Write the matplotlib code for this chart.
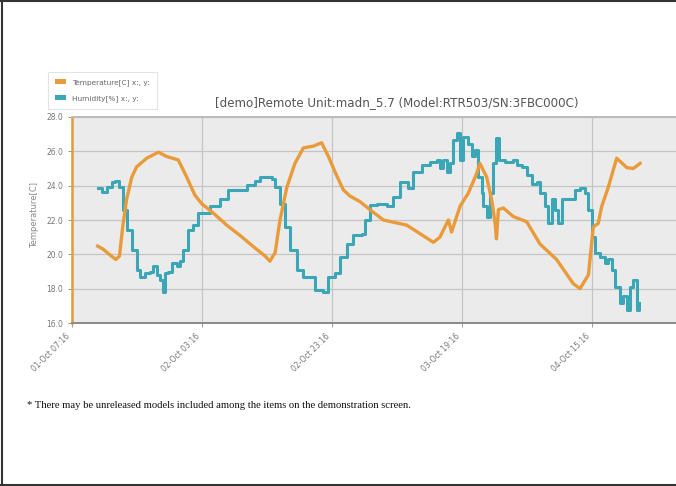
import matplotlib
matplotlib.use('Agg')
import matplotlib.pyplot as plt
import matplotlib.dates as mdates
from matplotlib.patches import Patch
import numpy as np
from datetime import datetime, timedelta

# Readings (hours after 01-Oct 07:16)
start_time = datetime(2013, 10, 1, 7, 16)

temp_hours = [3.95, 4.8, 5.85, 6.75, 7.3, 7.8, 8.4, 9.2, 9.95, 11.5, 13.3, 14.55,
              16.35, 17.65, 18.9, 19.95, 21.75, 23.8, 25.85, 27.9, 29.7, 30.45,
              31.25, 32.0, 33.05, 34.3, 35.6, 37.1, 38.4, 39.45, 40.7, 41.75,
              42.75, 44.3, 45.85, 47.9, 51.5, 55.6, 56.6, 57.9, 58.4, 59.7,
              60.95, 62.25, 62.75, 63.8, 64.55, 65.1, 65.3, 65.6, 66.35, 67.9,
              69.95, 72.0, 74.55, 77.1, 78.15, 79.45, 80.2, 80.95, 81.5, 82.5,
              83.8, 85.35, 86.35, 87.4]
temp_values = [20.48, 20.3, 19.96, 19.7, 19.9, 21.6, 23.2, 24.5, 25.1, 25.6, 25.95, 25.7,
               25.5, 24.5, 23.45, 22.95, 22.4, 21.7, 21.1, 20.45, 19.9, 19.6,
               20.1, 22.0, 23.9, 25.3, 26.2, 26.3, 26.5, 25.7, 24.6, 23.75,
               23.4, 23.07, 22.6, 22.0, 21.7, 20.7, 21.0, 22.0, 21.3, 22.8,
               23.55, 24.7, 25.3, 24.5, 23.2, 21.8, 20.9, 22.6, 22.7, 22.2,
               21.9, 20.6, 19.7, 18.3, 18.0, 18.8, 21.6, 21.8, 22.8, 23.9,
               25.6, 25.05, 25.0, 25.3]

hum_hours = [3.95, 4.55, 5.35, 6.1, 6.6, 7.3, 7.8, 8.4, 9.2, 9.95, 10.45, 11.25,
             12.0, 12.5, 13.05, 13.55, 13.95, 14.3, 14.8, 15.35, 16.1, 16.6,
             17.1, 17.9, 18.65, 19.45, 20.2, 21.25, 22.75, 24.05, 25.35, 26.9,
             28.15, 28.9, 30.7, 31.25, 32.0, 32.75, 33.55, 34.55, 35.6, 36.6,
             37.4, 38.65, 39.45, 40.45, 41.25, 42.25, 43.3, 44.55, 45.1, 45.85,
             46.9, 48.4, 49.45, 50.45, 51.75, 52.5, 53.8, 55.1, 56.1, 56.6,
             57.1, 57.65, 58.15, 58.65, 59.2, 59.7, 60.2, 60.95, 61.5, 62.0,
             62.5, 63.0, 63.25, 63.8, 64.3, 64.7, 65.25, 65.75, 66.6, 67.9,
             68.4, 69.2, 69.95, 70.75, 71.5, 72.0, 72.75, 73.3, 73.8, 74.3,
             74.8, 75.35, 76.35, 77.4, 78.15, 78.9, 79.45, 79.95, 80.45, 81.25,
             82.0, 82.5, 83.05, 83.55, 84.3, 84.8, 85.35, 85.85, 86.35, 86.85, 87.3]
hum_values = [23.85, 23.65, 23.95, 24.2, 24.3, 23.95, 22.6, 21.4, 20.25, 19.1, 18.7, 18.9,
              19.0, 19.3, 18.8, 18.5, 17.8, 18.9, 19.0, 19.5, 19.3, 19.6,
              20.25, 21.4, 21.7, 22.4, 22.4, 22.8, 23.2, 23.75, 23.75, 24.05,
              24.3, 24.5, 24.4, 23.95, 22.95, 21.6, 20.25, 19.1, 18.7, 18.7,
              17.9, 17.8, 18.7, 18.9, 19.85, 20.6, 21.1, 21.2, 22.0, 22.9,
              22.95, 22.8, 23.35, 24.2, 23.85, 24.8, 25.2, 25.4, 25.5, 25.0,
              25.5, 24.8, 25.3, 26.65, 27.05, 25.5, 26.85, 26.45, 25.7, 26.1,
              24.5, 23.55, 22.8, 22.2, 23.55, 25.3, 26.75, 25.5, 25.4, 25.5,
              25.2, 25.1, 24.6, 24.1, 24.2, 23.55, 22.8, 21.8, 23.2, 22.6,
              21.8, 23.25, 23.2, 23.75, 23.85, 23.55, 22.6, 21.0, 20.1, 19.85,
              19.5, 19.7, 19.1, 18.1, 17.15, 17.6, 16.75, 18.1, 18.5, 16.75, 17.15]

tick_step_hours = 20
y_ticks = [16.0, 18.0, 20.0, 22.0, 24.0, 26.0, 28.0]

title = "[demo]Remote Unit:madn_5.7 (Model:RTR503/SN:3FBC000C)"
footnote = "* There may be unreleased models included among the items on the demonstration screen."

temp_color = '#E99B3A'
hum_color = '#3AA6B6'

temp_t = [start_time + timedelta(hours=h) for h in temp_hours]
hum_t = [start_time + timedelta(hours=h) for h in hum_hours]

W, H = 676, 486
fig = plt.figure(figsize=(W / 100, H / 100), dpi=100)
fig.patch.set_facecolor('white')

# plot area in pixels -> figure fraction; it runs off the right edge
left_px, right_px, top_px, bot_px = 72, 740, 117, 323
ax = fig.add_axes([left_px / W, 1 - bot_px / H, (right_px - left_px) / W, (bot_px - top_px) / H])
ax.set_facecolor('#EBEBEB')

ax.plot(hum_t, hum_values, color=hum_color, lw=2.2, drawstyle='steps-post', zorder=3)
ax.plot(temp_t, temp_values, color=temp_color, lw=2.4, zorder=4)

ax.set_ylim(16, 28)
ax.set_xlim(start_time, start_time + timedelta(hours=(right_px - left_px) / 6.5))
ax.set_yticks(y_ticks)
ax.set_yticklabels([f"{v:.1f}" for v in y_ticks])
xt = [start_time + timedelta(hours=tick_step_hours * k) for k in range(5)]
ax.set_xticks(xt)
ax.xaxis.set_major_formatter(mdates.DateFormatter('%d-%b %H:%M'))

ax.grid(True, color='#C4C4C4', lw=0.9)
ax.set_axisbelow(True)
ax.tick_params(axis='both', labelsize=5.5, colors='#888888', length=3, width=0.6)
for lab in ax.get_xticklabels():
    lab.set_rotation(45)
    lab.set_ha('right')
    lab.set_va('top')
    lab.set_color('#777777')
for lab in ax.get_yticklabels():
    lab.set_color('#777777')

ax.spines['left'].set_color(temp_color)
ax.spines['left'].set_linewidth(1.8)
ax.spines['bottom'].set_color('#8A8A8A')
ax.spines['bottom'].set_linewidth(1.4)
ax.spines['top'].set_color('#BBBBBB')
ax.spines['top'].set_linewidth(1.4)
ax.spines['right'].set_visible(False)

fig.text(35 / W, 1 - 215 / H, 'Temperature[C]', rotation=90, fontsize=6,
         color='#888888', ha='center', va='center')
fig.text(397 / W, 1 - 103 / H, title, fontsize=8.6, color='#555555',
         ha='center', va='center')

handles = [Patch(facecolor=temp_color, edgecolor='none', label='Temperature[C] x:, y:'),
           Patch(facecolor=hum_color, edgecolor='none', label='Humidity[%] x:, y:')]
leg = fig.legend(handles=handles, loc='upper left', bbox_to_anchor=(48 / W, 1 - 72 / H),
                 fontsize=5.3, frameon=True, fancybox=False, handlelength=1.6,
                 handleheight=0.7, labelspacing=1.3, borderpad=0.9, borderaxespad=0)
leg.get_frame().set_edgecolor('#DDDDDD')
leg.get_frame().set_linewidth(0.8)
for t in leg.get_texts():
    t.set_color('#666666')

fig.text(27 / W, 1 - 405 / H, footnote, fontsize=7.7, family='Liberation Serif',
         color='#111111', ha='left', va='center')

# frame around the screenshot
for xs, ys in [([1.5, 1.5], [0, H]), ([0, W], [H - 0.7, H - 0.7]), ([0, W], [0.7, 0.7])]:
    fig.add_artist(plt.Line2D([x / W for x in xs], [y / H for y in ys],
                              color='#333333', lw=1.5, transform=fig.transFigure))

fig.savefig('out.png', dpi=100)
